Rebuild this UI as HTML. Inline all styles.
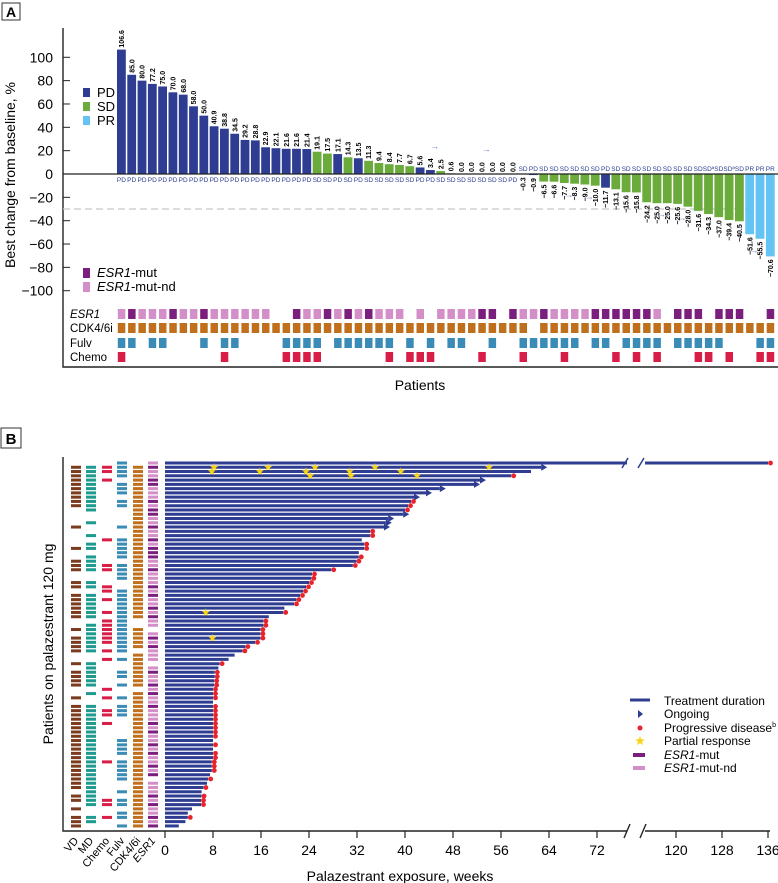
<!DOCTYPE html>
<html><head><meta charset="utf-8"><style>
html,body{margin:0;padding:0;background:#fff;}
svg{display:block;font-family:"Liberation Sans",sans-serif;}
</style></head><body>
<svg id="fig" width="778" height="883" viewBox="0 0 778 883" xmlns="http://www.w3.org/2000/svg">
<g id="panelA"></g>
<g id="panelB"></g>
</svg>
<script>
// ---------- Panel A data ----------
const aValues=[106.6,85.0,80.0,77.2,75.0,70.0,68.0,58.0,50.0,40.9,38.8,34.5,29.2,28.8,22.9,22.1,21.6,21.6,21.4,
19.1,17.5,17.1,14.3,13.5,11.3,9.4,8.4,7.7,6.7,5.6,3.4,2.5,0.6,0.0,0.0,0.0,0.0,0.0,0.0,
-0.3,-0.9,-6.5,-6.6,-7.7,-8.3,-9.0,-10.0,-11.7,-13.1,-15.6,-15.8,-24.2,-25.0,-25.0,-25.6,-28.0,-31.6,-34.3,-37.0,-39.4,-40.5,-51.6,-55.5,-70.6];
const aResp=["PD","PD","PD","PD","PD","PD","PD","PD","PD","PD","PD","PD","PD","PD","PD","PD","PD","PD","PD",
"SD","SD","PD","SD","PD","SD","SD","SD","SD","SD","PD","PD","SD","SD","SD","SD","SD","SD","SD","PD",
"SD","PD","SD","SD","SD","SD","SD","SD","PD","SD","SD","SD","SD","SD","SD","SD","SD","SD","SDª","SD","SDª","SD","PR","PR","PR"];
const aYTicks=[100,80,60,40,20,0,-20,-40,-60,-80,-100];
const aEsr1="ldllldlldlllll--dlldd1dd" ; // placeholder replaced below
const aEsr1Row="ldllldlldllllll--dlldldldlll-l-lllldd-dlldlllldddddd l-ddd-ddd--d".replace(' ','');
const aCdk="1111111111111111111111111111111111111111011111111111111111111111";
const aFulv="1101100010110000111101111110101011001001111110110111101111100011";
const aChemo="1000000000100000111100000010111000010001000100001010100011010011";
const aArrows=[31,36,44,46,53,55,62];
// ---------- Panel B data ----------
const bWeeks=[136,62.7,61,57.7,52.5,51.5,45.8,43.5,41.5,41,40.5,40,39.7,37.2,36.8,36.5,34.2,34.2,32.8,33.2,
33.2,32.3,32.3,31.9,31.3,27.7,24.5,24.4,24,23.5,23,22.5,21.9,21.5,19.9,19.7,17.3,16.4,16.4,15.9,
15.9,15.9,15,13.4,12.9,11.6,10.6,9.1,8.9,8.3,8.3,8.2,8.2,8,8,8,8,8,8,8,
8,8,8,8,8,8,8,8,8,8,7.8,7.8,7.8,7.5,7.2,7,6.4,6.1,6.1,6,
6,4.5,3.8,3.8,3.4,2.3];
const bEnds="dandaaaaad"+"ddaaaaddnd"+"dndddddddd"+"ddddndnddd"+"dddddnndnd"+"ddddddnddd"+"dddddndndd"+"dddndndndd"+"dnndnn";
const bStarRows=[1,1,1,1,1,2,2,2,2,2,3,3,3,35,41];
const bStarWeeks=[8.2,17.2,25,35,54,7.8,15.8,23.5,30.8,39.3,24.2,31,42,6.8,7.9];
const bVD="1-10,15,20,23-25,28-29,31-36,39,41-44,47,49-52,55,57-76,78-79,81,83-85";
const bMD="1-11,14,17,19-20,22-25,28-29,31-36,38-44,47-52,54,57-80,83-84";
const bChemo="1-2,4,18,24-25,29-30,32,35,37-42,44,46,53,55,58-59,61,70,79-80,83";
const bFulv="0-3,5-7,9-10,15,18-22,24-27,30-44,46,49-50,52,55,57-59,65-68,70-74,77,79-80,82-83,85";
const bCdk="1-36,39-43,45-52,54-85";
const bEsr1="pdppddpppd"+"pddppdppdp"+"dddppdpppd"+"pdppdpdpp-"+"pdpdppp-pd"+"ppdpdppdpp"+"pdpdppdpdp"+"pdpd-pppdp"+"dppdpd";
const bXTicks=[0,8,16,24,32,40,48,56,64,72,120,128,136];

const NS="http://www.w3.org/2000/svg";
function mk(parent,tag,attrs,text){const e=document.createElementNS(NS,tag);for(const k in attrs)e.setAttribute(k,attrs[k]);if(text!==undefined)e.textContent=text;parent.appendChild(e);return e;}
const colResp={PD:"#2e3d91",SD:"#6aab3c",PR:"#63c3f3","SDª":"#6aab3c"};
const C={dark:"#7b1f7e",light:"#d48fc8",cdk:"#c0701c",fulv:"#3a8bb6",chemo:"#d81e47",vd:"#7a3b1e",md:"#1e9a8f",bar:"#2e3d91"};

// ----- Panel A -----
const A=document.getElementById('panelA');
const ay=v=>174-v*1.167;
const ax=i=>117+i*10.3;
let e;
e=mk(A,'rect',{x:2,y:3,width:18,height:17,fill:'#fff',stroke:'#333','stroke-width':1});

e=mk(A,'text',{x:11,y:17,'font-size':14,'font-weight':'bold','text-anchor':'middle'},'A');

e=mk(A,'path',{d:'M63 28 V367 H778',fill:'none',stroke:'#222','stroke-width':1.4});

e=mk(A,'line',{x1:63,x2:778,y1:ay(-30),y2:ay(-30),stroke:'#c8c8c8','stroke-width':1.3,'stroke-dasharray':'7,4'});

aYTicks.forEach(t=>{
  const l=mk(A,'line',{x1:63,x2:70,y1:ay(t),y2:ay(t),stroke:'#222','stroke-width':1});
  
  const tx=mk(A,'text',{x:53,y:ay(t)+5,'font-size':14,'text-anchor':'end'},t<0?'−'+Math.abs(t):String(t));
  
});
e=mk(A,'text',{transform:'translate(15,175) rotate(-90)','font-size':14,'text-anchor':'middle'},'Best change from baseline, %');

aValues.forEach((v,i)=>{
  const x=ax(i),c=colResp[aResp[i]];
  const h=Math.abs(v)*1.167;
  const r=mk(A,'rect',{x:x,y:v>=0?ay(v):ay(0),width:8.8,height:Math.max(h,0.01),fill:c});
  
  const lab=(v<0?'−'+Math.abs(v).toFixed(1):v.toFixed(1));
  let t;
  if(v>=0){t=mk(A,'text',{transform:`translate(${x+7},${ay(v)-2}) rotate(-90)`,'font-size':7,'font-weight':'bold'},lab);}
  else{t=mk(A,'text',{transform:`translate(${x+7},${ay(v)+3}) rotate(-90)`,'font-size':7,'font-weight':'bold','text-anchor':'end'},lab);}
  
  const cy=v>=0?182:171;
  const ct=mk(A,'text',{x:x+4.4,y:cy,'font-size':6.5,'text-anchor':'middle',fill:'#2e3d91'},aResp[i]);
  
});
e=mk(A,'line',{x1:63,x2:778,y1:174,y2:174,stroke:'#222','stroke-width':1.3});

aArrows.forEach(i=>{
  const v=aValues[i];const yy=v>=0?ay(v)-22:ay(v)+14;
  const t=mk(A,'text',{x:ax(i)-6,y:yy,'font-size':9,fill:'#6a8ab8'},'→');
  
});
[['PD',93],['SD',107],['PR',121]].forEach(([k,y])=>{
  const r=mk(A,'rect',{x:83,y:y-5,width:7,height:9,fill:colResp[k]});
  
  const t=mk(A,'text',{x:97,y:y+4,'font-size':13},k);
  
});
[[C.dark,273,'-mut'],[C.light,287,'-mut-nd']].forEach(([c,y,s])=>{
  const r=mk(A,'rect',{x:83,y:y-5,width:7,height:10,fill:c});
  
  const t=mk(A,'text',{x:97,y:y+4,'font-size':13});
  
  mk(t,'tspan',{'font-style':'italic'},'ESR1');mk(t,'tspan',{},s);
});
[['ESR1',314,true],['CDK4/6i',328,false],['Fulv',343,false],['Chemo',357,false]].forEach(([s,y,it])=>{
  const t=mk(A,'text',{x:70,y:y+4,'font-size':11.5,'font-style':it?'italic':'normal'},s);
  
});
for(let i=0;i<64;i++){
  const x=ax(i)+0.8;
  const es=aEsr1Row[i];
  if(es==='l'||es==='d'){const r=mk(A,'rect',{x:x,y:309,width:7.5,height:10,fill:es==='d'?C.dark:C.light});}
  if(aCdk[i]==='1'){const r=mk(A,'rect',{x:x,y:323,width:7.5,height:10,fill:C.cdk});}
  if(aFulv[i]==='1'){const r=mk(A,'rect',{x:x,y:338,width:7.5,height:10,fill:C.fulv});}
  if(aChemo[i]==='1'){const r=mk(A,'rect',{x:x,y:352,width:7.5,height:10,fill:C.chemo});}
}
e=mk(A,'text',{x:420,y:390,'font-size':14,'text-anchor':'middle'},'Patients');


// ----- Panel B -----
const B=document.getElementById('panelB');
function bx(w){return w<=78?165+6*w:676+(w-120)*5.75;}
const by=r=>463+r*4.27;
function expand(s){const set=new Set();s.split(',').forEach(p=>{const [a,b]=p.split('-').map(Number);for(let k=a;k<=(b===undefined?a:b);k++)set.add(k);});return set;}
e=mk(B,'rect',{x:1,y:428,width:20,height:20,fill:'#fff',stroke:'#333','stroke-width':1});

e=mk(B,'text',{x:11,y:444,'font-size':15,'font-weight':'bold','text-anchor':'middle'},'B');

e=mk(B,'path',{d:'M63 457 V831 H627 M645 831 H770',fill:'none',stroke:'#222','stroke-width':1.4});

e=mk(B,'path',{d:'M624 838 L630 824 M640 838 L646 824',stroke:'#222','stroke-width':1.4,fill:'none'});

bXTicks.forEach(t=>{
  const l=mk(B,'line',{x1:bx(t),x2:bx(t),y1:831,y2:838,stroke:'#222','stroke-width':1.2});
  
  const tx=mk(B,'text',{x:bx(t),y:855,'font-size':14,'text-anchor':'middle'},String(t));
  
});
e=mk(B,'text',{x:400,y:881,'font-size':14,'text-anchor':'middle'},'Palazestrant exposure, weeks');

e=mk(B,'text',{transform:'translate(53,644) rotate(-90)','font-size':14,'text-anchor':'middle'},'Patients on palazestrant 120 mg');

const cols=[[bVD,76,C.vd,'VD'],[bMD,91,C.md,'MD'],[bChemo,107,C.chemo,'Chemo'],[bFulv,122,C.fulv,'Fulv'],[bCdk,138,C.cdk,'CDK4/6i']];
cols.forEach(([s,x,c,n])=>{
  const set=expand(s);
  set.forEach(r=>{const d=mk(B,'rect',{x:x-5,y:by(r)-1.5,width:10,height:3,fill:c});
    });
});
for(let r=0;r<bEsr1.length;r++){const ch=bEsr1[r];if(ch==='-')continue;
  const d=mk(B,'rect',{x:148,y:by(r)-1.5,width:10,height:3,fill:ch==='d'?C.dark:C.light});
  }
[['VD',76],['MD',91],['Chemo',107],['Fulv',122],['CDK4/6i',138],['ESR1',153]].forEach(([s,x])=>{
  const t=mk(B,'text',{transform:`translate(${x+3},${841}) rotate(-50)`,'font-size':11,'text-anchor':'end','font-style':s==='ESR1'?'italic':'normal'},s);
  
});
bWeeks.forEach((w,r)=>{
  const y=by(r);let g;
  if(w>78){
    g=mk(B,'path',{d:`M165 ${y} H627 M645 ${y} H${bx(w)}`,stroke:C.bar,'stroke-width':3,fill:'none'});
    const s=mk(B,'path',{d:`M622 ${y+5} L628 ${y-5} M638 ${y+5} L644 ${y-5}`,stroke:C.bar,'stroke-width':1.5,fill:'none'});
    
  } else g=mk(B,'line',{x1:165,x2:bx(w),y1:y,y2:y,stroke:C.bar,'stroke-width':3});
  
  const end=bEnds[r];
  if(end==='d'){const c=mk(B,'circle',{cx:bx(w)+2.5,cy:y,r:2.4,fill:'#e8232b'});}
  if(end==='a'){const x=bx(w);const p=mk(B,'path',{d:`M${x} ${y-3.5} L${x+6} ${y} L${x} ${y+3.5}Z`,fill:C.bar});}
});
function star(cx,cy,R){let d='';for(let k=0;k<10;k++){const rr=k%2?R*0.42:R;const a=-Math.PI/2+k*Math.PI/5;d+=(k?'L':'M')+(cx+rr*Math.cos(a)).toFixed(2)+' '+(cy+rr*Math.sin(a)).toFixed(2);}return d+'Z';}
bStarRows.forEach((r,k)=>{
  const p=mk(B,'path',{d:star(bx(bStarWeeks[k]),by(r),4.2),fill:'#f7d417'});
  
});
// legend B
const L=mk(B,'g',{});
e=mk(L,'line',{x1:630,x2:650,y1:700,y2:700,stroke:C.bar,'stroke-width':3});
e=mk(L,'path',{d:'M638 710 L643 714 L638 718Z',fill:C.bar});
e=mk(L,'circle',{cx:640,cy:728,r:2.5,fill:'#e8232b'});
e=mk(L,'path',{d:star(640,741,5),fill:'#f7d417'});
e=mk(L,'rect',{x:633,y:753,width:12,height:4,fill:C.dark});
e=mk(L,'rect',{x:633,y:766,width:12,height:4,fill:C.light});
const texts=[['Treatment duration',705],['Ongoing',718],['Progressive disease',732],['Partial response',745]];
texts.forEach(([s,y])=>{const t=mk(L,'text',{x:664,y:y,'font-size':12},s);
  if(s==='Progressive disease'){mk(t,'tspan',{'font-size':7,dy:-5},'b');}});
[['-mut',759],['-mut-nd',772]].forEach(([s,y])=>{const t=mk(L,'text',{x:664,y:y,'font-size':12});
  mk(t,'tspan',{'font-style':'italic'},'ESR1');mk(t,'tspan',{},s);});
</script>
</body></html>
